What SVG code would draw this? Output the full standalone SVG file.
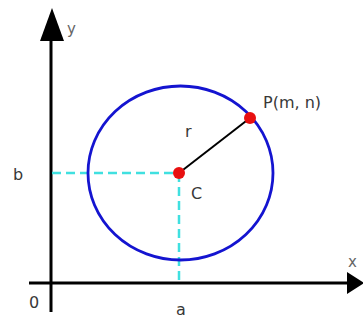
<svg xmlns="http://www.w3.org/2000/svg" width="363" height="321" viewBox="0 0 363 321">
<style>
.axis{stroke:#000;stroke-width:3;fill:none}
.guide{stroke:#40e0e0;stroke-width:2.5;stroke-dasharray:9 5;fill:none}
.lbl{font-family:"DejaVu Sans",sans-serif;font-size:16px;fill:#383838}
.small{font-size:15px;fill:#666}
.dot{fill:#e81010}
</style>
<rect width="363" height="321" fill="#fff"/>
<g id="axes">
<line class="axis" x1="51" y1="312" x2="51" y2="36"/>
<polygon points="52,8 40,41 64,41" fill="#000"/>
<line class="axis" x1="29" y1="283" x2="350" y2="283"/>
<polygon points="364,283 347,272 347,294" fill="#000"/>
<text class="lbl small" x="67" y="34">y</text>
<text class="lbl small" x="348" y="267">x</text>
<text class="lbl" x="29" y="308">0</text>
</g>
<g id="connectors">
<line class="guide" x1="52" y1="173" x2="179" y2="173"/>
<line class="guide" x1="179" y1="173" x2="179" y2="282"/>
<line x1="179" y1="173" x2="250" y2="118" stroke="#000" stroke-width="2"/>
</g>
<g id="circle">
<ellipse cx="180.5" cy="173" rx="92.5" ry="87" fill="none" stroke="#1414d0" stroke-width="2.8"/>
</g>
<g id="C">
<circle class="dot" cx="179" cy="173" r="6"/>
<text class="lbl" x="191" y="199">C</text>
</g>
<g id="P">
<circle class="dot" cx="250" cy="118" r="6"/>
<text class="lbl" x="263" y="108">P(m, n)</text>
</g>
<g id="r"><text class="lbl" x="185" y="137">r</text></g>
<g id="b"><text class="lbl" x="13" y="180">b</text></g>
<g id="a"><text class="lbl" x="176" y="315">a</text></g>
</svg>
